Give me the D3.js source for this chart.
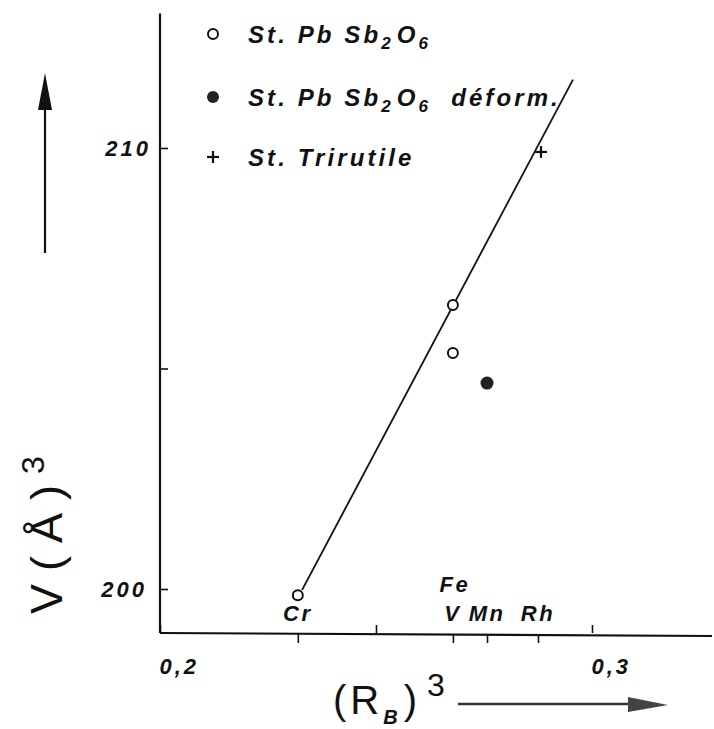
<!DOCTYPE html>
<html>
<head>
<meta charset="utf-8">
<script src="https://cdn.jsdelivr.net/npm/d3@7"></script>
<style>
  body { margin: 0; background: #fff; }
  svg { display: block; }
  .lab { font-family: "Liberation Sans", Arial, sans-serif; font-style: italic; font-weight: bold; fill: #111; }
  .tick text { font-family: "Liberation Sans", Arial, sans-serif; font-style: italic; font-weight: bold; font-size: 22px; letter-spacing: 3px; fill: #111; }
  .tick line { stroke: #111; stroke-width: 1.6; }
</style>
</head>
<body>
<div id="chart"></div>
<script>
// values
var xTicks = [0.2, 0.25, 0.3];
var xTickLabels = ["0,2", "", "0,3"];
var yTicks = [200, 205, 210];
var yTickLabels = ["200", "", "210"];

var elementNames = ["Cr", "V", "Mn", "Rh"];
var elementX = [0.2319, 0.2678, 0.2757, 0.2875];

var openX = [0.2319, 0.2678, 0.2678];
var openY = [199.86, 206.44, 205.35];
var filledX = [0.2757];
var filledY = [204.67];
var plusX = [0.2882];
var plusY = [209.91];

var fitX = [0.2329, 0.2956];
var fitY = [199.98, 211.55];

var legendNames = ["St. Pb Sb", "St. Pb Sb", "St. Trirutile"];

var W = 714, H = 729;
var x0 = 160, xAxisY = 633;

var x = d3.scaleLinear().domain([0.2, 0.3]).range([160, 592]);
var y = d3.scaleLinear().domain([200, 210]).range([589, 148]);

var svg = d3.select("#chart").append("svg")
    .attr("width", W)
    .attr("height", H);

// axis lines
svg.append("line")
    .attr("x1", x0).attr("x2", x0)
    .attr("y1", y(213.05)).attr("y2", xAxisY)
    .attr("stroke", "#111").attr("stroke-width", 2.2);
svg.append("line")
    .attr("x1", x0).attr("x2", 712)
    .attr("y1", xAxisY).attr("y2", xAxisY + 3)
    .attr("stroke", "#111").attr("stroke-width", 2.2);

// x axis ticks (up) with labels below
var xAxis = svg.append("g")
    .attr("transform", "translate(0," + xAxisY + ")")
    .call(d3.axisBottom(x).tickValues(xTicks).tickSize(-8).tickPadding(25)
        .tickFormat(function(d, i){ return xTickLabels[i]; }));
xAxis.select(".domain").remove();
xAxis.selectAll(".tick text").attr("text-anchor", "start").attr("dx", "-1");

// element ticks (down)
var elAxis = svg.append("g")
    .attr("transform", "translate(0," + (xAxisY + 1) + ")")
    .call(d3.axisBottom(x).tickValues(elementX).tickSize(9).tickFormat(""));
elAxis.select(".domain").remove();

// y axis ticks (right) with labels left
var yAxis = svg.append("g")
    .attr("transform", "translate(" + x0 + ",0)")
    .call(d3.axisLeft(y).tickValues(yTicks).tickSize(-8).tickPadding(9)
        .tickFormat(function(d, i){ return yTickLabels[i]; }));
yAxis.select(".domain").remove();
yAxis.selectAll(".tick text").filter(function(d){ return d == 200; }).attr("dx", "-4");

// element labels
svg.selectAll(".el")
    .data(elementNames)
    .enter().append("text")
    .attr("class", "lab el")
    .attr("x", function(d, i){ return x(elementX[i]); })
    .attr("y", 621)
    .attr("text-anchor", "middle")
    .attr("font-size", 22)
    .attr("letter-spacing", 2.5)
    .text(function(d){ return d; });
svg.append("text")
    .attr("class", "lab")
    .attr("x", x(elementX[1]) + 2)
    .attr("y", 592)
    .attr("text-anchor", "middle")
    .attr("font-size", 22)
    .attr("letter-spacing", 2.5)
    .text("Fe");

// fit line
svg.append("line")
    .attr("x1", x(fitX[0])).attr("y1", y(fitY[0]))
    .attr("x2", x(fitX[1])).attr("y2", y(fitY[1]))
    .attr("stroke", "#111").attr("stroke-width", 1.8);

// points
svg.selectAll(".open")
    .data(openX)
    .enter().append("circle")
    .attr("cx", function(d){ return x(d); })
    .attr("cy", function(d, i){ return y(openY[i]); })
    .attr("r", 5)
    .attr("fill", "#fff").attr("stroke", "#111").attr("stroke-width", 2);

svg.selectAll(".filled")
    .data(filledX)
    .enter().append("circle")
    .attr("cx", function(d){ return x(d); })
    .attr("cy", function(d, i){ return y(filledY[i]); })
    .attr("r", 6.5)
    .attr("fill", "#222");

function plus(g, cx, cy, s) {
    g.append("line").attr("x1", cx - s).attr("x2", cx + s).attr("y1", cy).attr("y2", cy)
        .attr("stroke", "#111").attr("stroke-width", 2.2);
    g.append("line").attr("x1", cx).attr("x2", cx).attr("y1", cy - s).attr("y2", cy + s)
        .attr("stroke", "#111").attr("stroke-width", 2.2);
}
plusX.forEach(function(d, i){ plus(svg, x(d), y(plusY[i]), 6); });

// legend
var lg = svg.append("g");
var legY = [34, 97, 157];
lg.append("circle").attr("cx", 213).attr("cy", legY[0]).attr("r", 5)
    .attr("fill", "#fff").attr("stroke", "#111").attr("stroke-width", 2);
lg.append("circle").attr("cx", 213).attr("cy", legY[1]).attr("r", 6)
    .attr("fill", "#222");
plus(lg, 213, legY[2], 6);

legendNames.forEach(function(name, i){
    var t = lg.append("text")
        .attr("class", "lab")
        .attr("x", 248)
        .attr("y", legY[i] + 9)
        .attr("font-size", 24)
        .attr("letter-spacing", 3.1);
    t.append("tspan").text(name);
    if (i < 2) {
        t.append("tspan").attr("font-size", 17).attr("dy", 6).text("2");
        t.append("tspan").attr("dx", 3).attr("dy", -6).text("O");
        t.append("tspan").attr("font-size", 17).attr("dy", 6).text("6");
        if (i == 1) {
            t.append("tspan").attr("dx", 20).attr("dy", -6).text("déform.");
        }
    }
});

// y title
var yt = svg.append("text")
    .attr("transform", "translate(62,614) rotate(-90)")
    .attr("font-family", "Liberation Sans, Arial, sans-serif")
    .attr("font-size", 45)
    .attr("letter-spacing", 13)
    .attr("fill", "#111");
yt.append("tspan").text("V(Å)");
yt.append("tspan").attr("font-size", 32).attr("dy", -18).attr("dx", -2).text("3");

// x title
var xt = svg.append("text")
    .attr("x", 333)
    .attr("y", 714)
    .attr("font-family", "Liberation Sans, Arial, sans-serif")
    .attr("font-size", 40)
    .attr("letter-spacing", 4)
    .attr("fill", "#111");
xt.append("tspan").text("(R");
xt.append("tspan").attr("font-size", 20).attr("dy", 10).attr("font-style", "italic").attr("font-weight", "bold").text("B");
xt.append("tspan").attr("dy", -10).attr("dx", 2).text(")");
xt.append("tspan").attr("font-size", 32).attr("dy", -18).attr("dx", 6).text("3");

// arrows
svg.append("line").attr("x1", 45).attr("x2", 45).attr("y1", 253).attr("y2", 100)
    .attr("stroke", "#111").attr("stroke-width", 2.2);
svg.append("path").attr("d", "M45,73 L38,110 L52,110 Z").attr("fill", "#111");
svg.append("line").attr("x1", 458).attr("x2", 640).attr("y1", 704).attr("y2", 704)
    .attr("stroke", "#333").attr("stroke-width", 2.4);
svg.append("path").attr("d", "M668,705 L628,697 L628,712 Z").attr("fill", "#444");
</script>
</body>
</html>
